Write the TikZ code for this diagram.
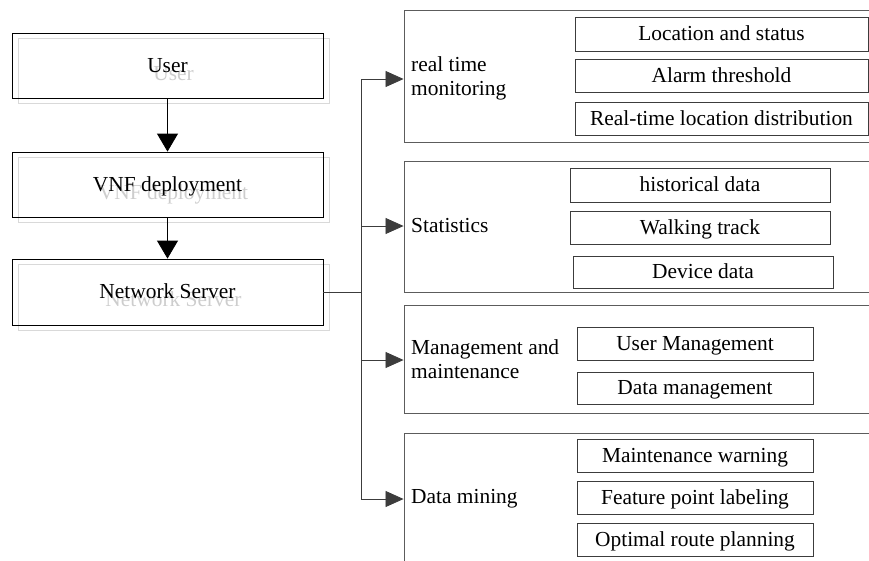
\documentclass[tikz,border=0pt]{standalone}
\usepackage{fontspec}
\setmainfont{Liberation Serif}
\usetikzlibrary{arrows.meta}
\definecolor{framegray}{HTML}{5C5C5C}
\definecolor{innergray}{HTML}{3C3C3C}
\definecolor{shadegray}{HTML}{D9D9D9}
\definecolor{ghostgray}{HTML}{CDCDCD}
\begin{document}
\begin{tikzpicture}[x=1pt,y=-1pt,
  txt/.style={font=\fontsize{21.4}{24}\selectfont},
  boxtxt/.style={txt, text height=14pt, text depth=1pt},
  flowbox/.style={draw=black, line width=0.8pt, minimum width=311pt, inner sep=0pt, boxtxt},
  shadowbox/.style={draw=shadegray, line width=1pt, minimum width=311pt, inner sep=0pt},
  ghosttext/.style={boxtxt, inner sep=0pt, text=ghostgray},
  groupbox/.style={draw=framegray, line width=0.9pt, minimum width=496pt, inner sep=0pt},
  itembox/.style={draw=innergray, line width=0.8pt, inner sep=0pt, boxtxt},
  grouplabel/.style={anchor=west, align=left, inner sep=0pt, txt},
  downarrow/.style={-{Triangle[length=18pt,width=21pt]}, line width=0.8pt, draw=black},
  branch/.style={-{Triangle[length=18pt,width=16pt]}, line width=0.8pt, draw=innergray, fill=innergray},
  busline/.style={line width=0.8pt, draw=innergray}
]
\useasboundingbox (0,0) rectangle (869,560);
\clip (0,0) rectangle (869,560);

% shadows of the left column
\node[shadowbox, minimum height=65pt] (usersh) at (173.5,70.5) {};
\node[shadowbox, minimum height=65pt] (vnfsh)  at (173.5,189.5) {};
\node[shadowbox, minimum height=66pt] (nssh)   at (173.5,297) {};
\node[ghosttext] (userg) at (173.5,73.5) {User};
\node[ghosttext] (vnfg)  at (173.5,192.5) {VNF deployment};
\node[ghosttext] (nsg)   at (173.5,300) {Network Server};

% left column
\node[flowbox, minimum height=65pt] (user) at (167.5,65.5) {User};
\node[flowbox, minimum height=65pt] (vnf)  at (167.5,184.5) {VNF deployment};
\node[flowbox, minimum height=66pt] (ns)   at (167.5,292) {Network Server};

\draw[downarrow] (user) -- (vnf);
\draw[downarrow] (vnf) -- (ns);

% function groups
\node[groupbox, minimum height=132pt] (g1) at (652,76) {};
\node[groupbox, minimum height=131pt] (g2) at (652,226.5) {};
\node[groupbox, minimum height=108pt] (g3) at (652,359) {};
\node[groupbox, minimum height=167pt] (g4) at (652,516.5) {};

\node[grouplabel] (l1) at (411,78) {real time\\monitoring};
\node[grouplabel] (l2) at (411,226) {Statistics};
\node[grouplabel] (l3) at (411,359) {Management and\\maintenance};
\node[grouplabel] (l4) at (411,499) {Data mining};

% items of each group
\node[itembox, minimum width=293pt, minimum height=34pt] (i11) at (721.5,34) {Location and status};
\node[itembox, minimum width=293pt, minimum height=33pt] (i12) at (721.5,75.5) {Alarm threshold};
\node[itembox, minimum width=293pt, minimum height=33pt] (i13) at (721.5,118.5) {Real-time location distribution};

\node[itembox, minimum width=260pt, minimum height=34pt] (i21) at (700,185) {historical data};
\node[itembox, minimum width=260pt, minimum height=33pt] (i22) at (700,227.5) {Walking track};
\node[itembox, minimum width=260pt, minimum height=32pt] (i23) at (703,272) {Device data};

\node[itembox, minimum width=236pt, minimum height=33pt] (i31) at (695,343.5) {User Management};
\node[itembox, minimum width=236pt, minimum height=32pt] (i32) at (695,388) {Data management};

\node[itembox, minimum width=236pt, minimum height=33pt] (i41) at (695,455.5) {Maintenance warning};
\node[itembox, minimum width=236pt, minimum height=33pt] (i42) at (695,497.5) {Feature point labeling};
\node[itembox, minimum width=236pt, minimum height=33pt] (i43) at (695,539.5) {Optimal route planning};

% distribution bus
\coordinate (bns) at (361,292);
\coordinate (b1) at (361,79);
\coordinate (b2) at (361,226);
\coordinate (b3) at (361,360);
\coordinate (b4) at (361,499);
\draw[busline] (ns.east) -- (bns);
\draw[busline] (b1) -- (b4);
\draw[branch] (b1) -- (b1 -| g1.west);
\draw[branch] (b2) -- (b2 -| g2.west);
\draw[branch] (b3) -- (b3 -| g3.west);
\draw[branch] (b4) -- (b4 -| g4.west);
\end{tikzpicture}
\end{document}
